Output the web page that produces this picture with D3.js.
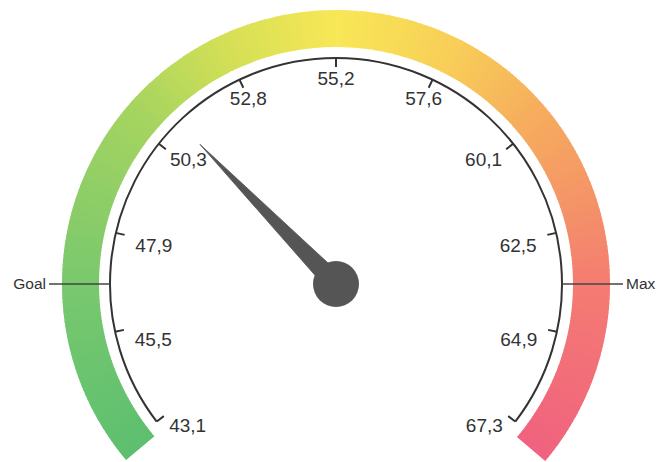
<!DOCTYPE html>
<html><head><meta charset="utf-8">
<script src="https://cdn.jsdelivr.net/npm/d3@7"></script>
<style>body{margin:0;background:#fff}svg{display:block}</style>
</head><body>
<script>
const tickValues = [43.1,45.5,47.9,50.3,52.8,55.2,57.6,60.1,62.5,64.9,67.3];
const tickLabels = ["43,1","45,5","47,9","50,3","52,8","55,2","57,6","60,1","62,5","64,9","67,3"];
const gaugeValue = [51.0];
const markerNames = ["Goal","Max"];
const markerValues = [46.66, 63.74];
const bandStops = [0,0.15,0.31,0.4,0.5,0.6,0.69,0.79,0.85,1];
const bandColors = ["#5dbf6f","#78c86e","#a5d460","#d2df56","#f8e756","#f8cf58","#f6ad5d","#f48f69","#f47b72","#f0627f"];

const W=659,H=462,cx=336,cy=284;
const rScale=226, rIn=237, rOut=274;
const svg=d3.select("body").append("svg").attr("width",W).attr("height",H);
const g=svg.append("g").attr("transform",`translate(${cx},${cy})`);
const deg=Math.PI/180;
const ang=d3.scaleLinear().domain([43.1,67.3]).range([-127.5*deg,127.5*deg]);
const bandAng=[-130*deg,130*deg];
const colorScale=d3.scaleLinear().domain(bandStops).range(bandColors).interpolate(d3.interpolateRgb);
const font="Liberation Sans, Arial, sans-serif";

// band
const N=260;
const segs=d3.range(N).map(i=>i/N);
const arcGen=d3.arc().innerRadius(rIn).outerRadius(rOut);
g.selectAll("path.band").data(segs).join("path").attr("class","band")
 .attr("d",t=>arcGen({startAngle:bandAng[0]+(bandAng[1]-bandAng[0])*t,endAngle:bandAng[0]+(bandAng[1]-bandAng[0])*(t+1/N)+0.004}))
 .attr("fill",t=>colorScale(t+0.5/N));

// scale arc
g.append("path").attr("d",d3.arc().innerRadius(rScale).outerRadius(rScale)({startAngle:ang(43.1),endAngle:ang(67.3)}))
 .attr("fill","none").attr("stroke","#333").attr("stroke-width",2);

// ticks
const pt=(a,r)=>[Math.sin(a)*r,-Math.cos(a)*r];
g.selectAll("line.tick").data(tickValues).join("line").attr("class","tick")
 .attr("x1",d=>pt(ang(d),rScale)[0]).attr("y1",d=>pt(ang(d),rScale)[1])
 .attr("x2",d=>pt(ang(d),rScale-9)[0]).attr("y2",d=>pt(ang(d),rScale-9)[1])
 .attr("stroke","#333").attr("stroke-width",2);

// labels
g.selectAll("text.tl").data(tickValues).join("text").attr("class","tl")
 .text((d,i)=>tickLabels[i]).attr("font-family",font)
 .attr("font-size",19).attr("fill","#333").attr("text-anchor","middle").attr("dominant-baseline","central")
 .attr("x",d=>{const a=ang(d);const rx=187+60*Math.max(0,Math.cos(a)-0.6);return Math.sin(a)*rx;})
 .attr("y",d=>{const a=ang(d);return 10-Math.cos(a)*216;});

// markers
markerValues.forEach((v,i)=>{
  const a=ang(v);
  const p1=pt(a,rScale), p2=pt(a,rScale+61);
  g.append("line").attr("x1",p1[0]).attr("y1",p1[1]).attr("x2",p2[0]).attr("y2",p2[1]).attr("stroke","#444").attr("stroke-width",1.5);
  const p3=pt(a,rScale+64);
  g.append("text").text(markerNames[i]).attr("x",p3[0]).attr("y",p3[1])
   .attr("text-anchor",Math.sin(a)<0?"end":"start").attr("dominant-baseline","central")
   .attr("font-family",font).attr("font-size",15.5).attr("fill","#333");
});

// needle
const na=ang(gaugeValue[0]);
const tip=pt(na,195), b1=pt(na-Math.PI/2,10), b2=pt(na+Math.PI/2,10);
g.append("path").attr("d",`M${b1[0]},${b1[1]}L${tip[0]},${tip[1]}L${b2[0]},${b2[1]}Z`).attr("fill","#555").attr("stroke","#555").attr("stroke-width",0.8);
g.append("circle").attr("cx",0).attr("cy",0).attr("r",23).attr("fill","#555");
</script>
</body></html>
